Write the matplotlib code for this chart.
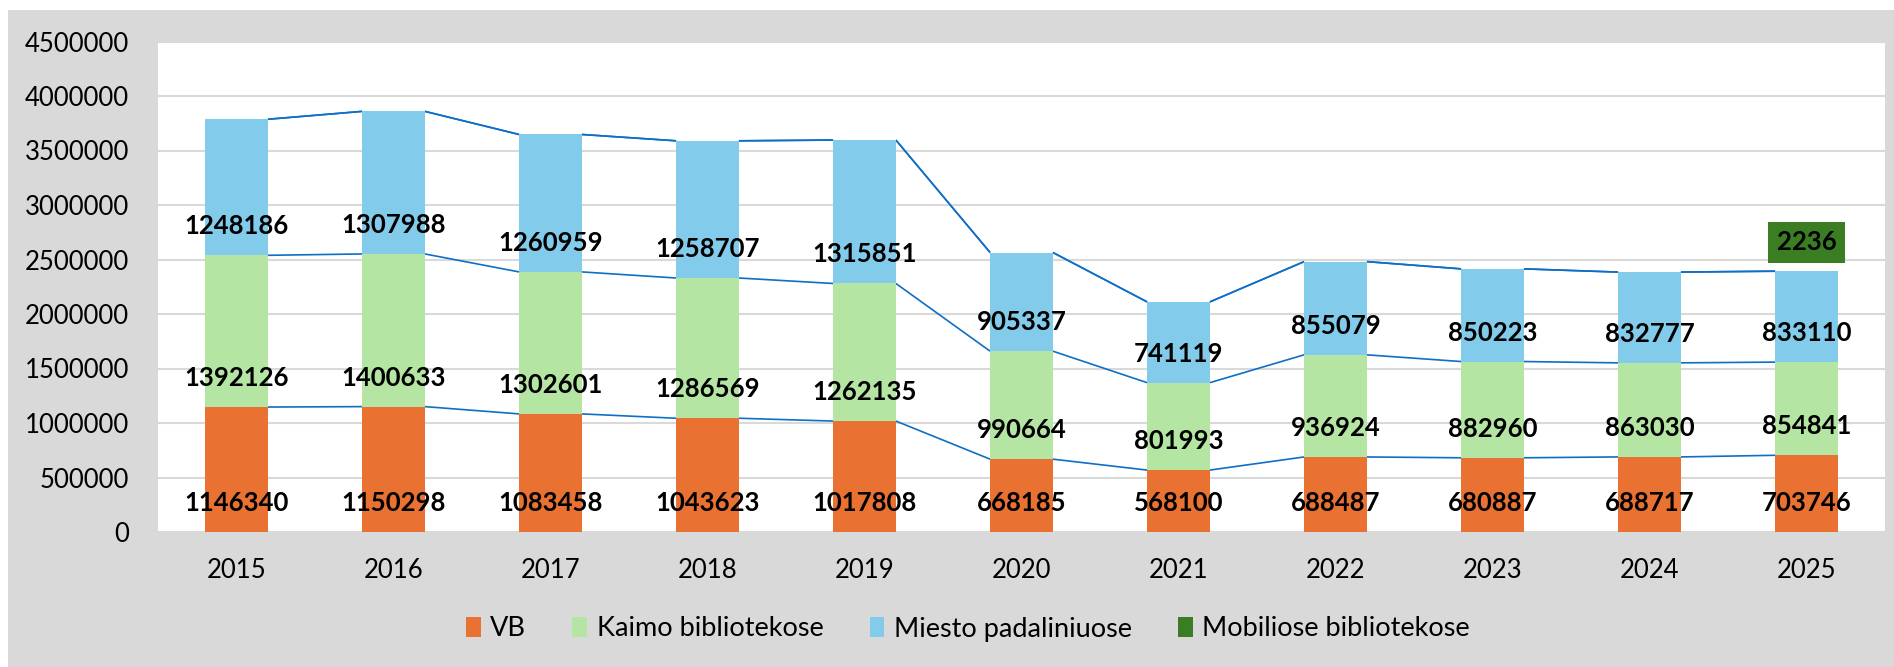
import numpy as np
import matplotlib
matplotlib.use("Agg")
import matplotlib.pyplot as plt
from matplotlib.patches import Rectangle

plt.rcParams['font.family'] = ['Lato', 'DejaVu Sans']

years = ['2015', '2016', '2017', '2018', '2019', '2020', '2021', '2022', '2023', '2024', '2025']
vb = [1146340, 1150298, 1083458, 1043623, 1017808, 668185, 568100, 688487, 680887, 688717, 703746]
kaimo = [1392126, 1400633, 1302601, 1286569, 1262135, 990664, 801993, 936924, 882960, 863030, 854841]
miesto = [1248186, 1307988, 1260959, 1258707, 1315851, 905337, 741119, 855079, 850223, 832777, 833110]
mobil = [np.nan] * 10 + [2236]

series_names = ['VB', 'Kaimo bibliotekose', 'Miesto padaliniuose', 'Mobiliose bibliotekose']
colors = ['#E97132', '#B4E5A2', '#83CBEB', '#3B7D23']
yticks = [0, 500000, 1000000, 1500000, 2000000, 2500000, 3000000, 3500000, 4000000, 4500000]

W, H = 1894, 667
fig = plt.figure(figsize=(W / 100, H / 100), dpi=100)
fig.patch.set_facecolor('#D9D9D9')
# thin white margins at left and top
fig.patches.append(Rectangle((0, 0), 8 / W, 1, transform=fig.transFigure,
                             facecolor='white', edgecolor='none', zorder=-10))
fig.patches.append(Rectangle((0, 1 - 10 / H), 1, 10 / H, transform=fig.transFigure,
                             facecolor='white', edgecolor='none', zorder=-10))

ax = fig.add_axes([158 / W, (H - 532) / H, (1885 - 158) / W, (532 - 41.5) / H])
ax.set_facecolor('white')

x = np.arange(len(years))
bw = 0.4
data = [np.array(vb, float), np.array(kaimo, float), np.array(miesto, float), np.array(mobil, float)]
bottom = np.zeros(len(years))
tops = []
bases = []
for vals, name, col in zip(data, series_names, colors):
    v = np.nan_to_num(vals)
    ax.bar(x, v, bw, bottom=bottom, color=col, label=name, zorder=3, linewidth=0)
    bases.append(bottom.copy())
    bottom = bottom + v
    tops.append(bottom.copy())

# series lines
for t in tops:
    for i in range(len(years) - 1):
        ax.plot([x[i] + bw / 2, x[i + 1] - bw / 2], [t[i], t[i + 1]], color='#0F6FC6',
                lw=1.2, zorder=2, solid_capstyle='butt')

# data labels (inside base)
off = 29 * 0.72
for k, vals in enumerate(data):
    for i in range(len(years)):
        val = vals[i]
        if np.isnan(val):
            continue
        kw = {}
        if k == 3:
            kw['bbox'] = dict(boxstyle='square,pad=0.33', facecolor=colors[3], edgecolor='none')
        ax.annotate(f'{int(val)}', (x[i], bases[k][i]), xytext=(0, off), textcoords='offset points',
                    ha='center', va='center', fontsize=18.5, fontweight='bold', color='black',
                    zorder=5, **kw)

ax.set_xlim(-0.5, len(years) - 0.5)
ax.set_ylim(0, 4500000)
ax.set_yticks(yticks)
ax.set_yticklabels([str(v) for v in yticks])
ax.set_xticks(x)
ax.set_xticklabels(years)
ax.tick_params(axis='both', length=0, labelsize=18.5, colors='black')
ax.tick_params(axis='y', pad=21)
ax.tick_params(axis='x', pad=19)
ax.grid(axis='y', color='#D9D9D9', lw=1.5, zorder=0)
ax.set_axisbelow(True)
for s in ax.spines.values():
    s.set_visible(False)

ax.legend(loc='center', bbox_to_anchor=(968 / W, 1 - 629 / H), bbox_transform=fig.transFigure,
          ncol=4, frameon=False, fontsize=19.5, handlelength=0.55, handleheight=0.75,
          handletextpad=0.35, columnspacing=1.7)

fig.savefig('out.png', dpi=100, facecolor=fig.get_facecolor())
